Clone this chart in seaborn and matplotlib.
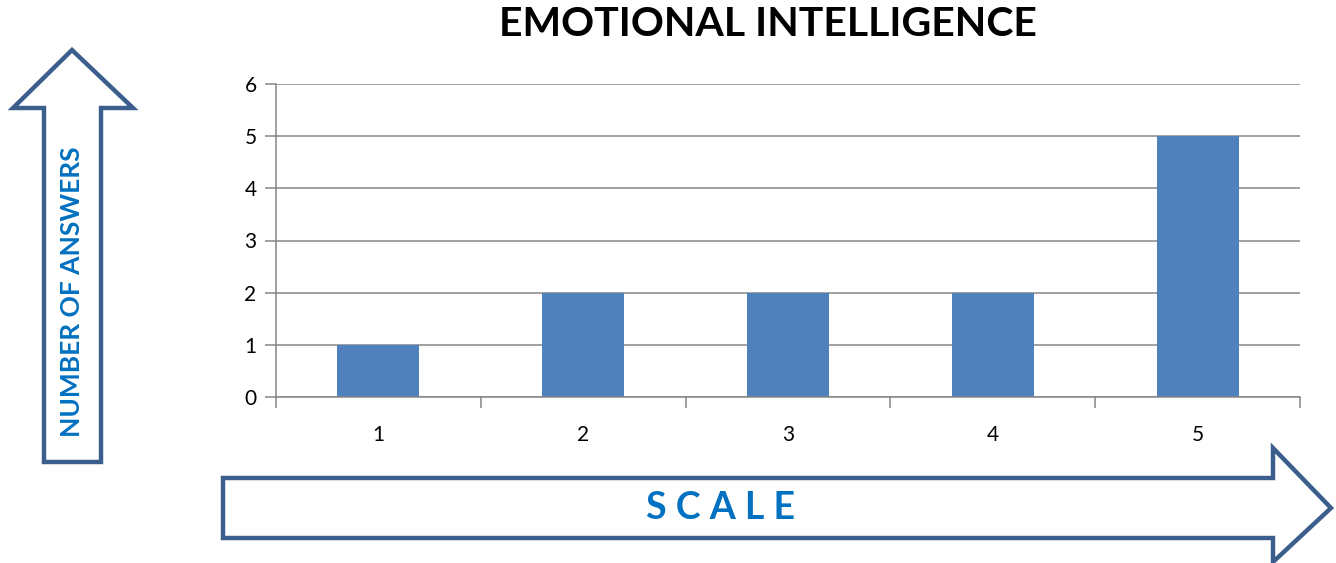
import seaborn as sns
import matplotlib.pyplot as plt
import pandas as pd
from matplotlib.patches import Polygon

scale = ["1", "2", "3", "4", "5"]
answers = [1, 2, 2, 2, 5]

sns.set_theme(style="white")
plt.rcParams['font.family'] = ['Lato', 'DejaVu Sans']

df = pd.DataFrame({"Scale": scale, "Answers": answers})

fig = plt.figure(figsize=(13.36, 5.63), dpi=100)
ax = fig.add_axes([276 / 1336, 1 - 397 / 563, 1024 / 1336, 313 / 563])
sns.barplot(x="Scale", y="Answers", data=df, ax=ax, color="#4F81BD", width=0.4, saturation=1, linewidth=0)

grey = "#868686"
ax.set_ylim(0, 6)
ax.set_xlim(-0.5, 4.5)
ax.set_yticks(range(0, 7))
ax.yaxis.grid(True, color=grey, linewidth=1.1)
ax.set_axisbelow(True)
ax.set_xlabel("")
ax.set_ylabel("")
for s in ["top", "right"]:
    ax.spines[s].set_visible(False)
for s in ["left", "bottom"]:
    ax.spines[s].set_color(grey)
    ax.spines[s].set_linewidth(1.1)
ax.tick_params(axis="y", which="major", left=True, length=8, width=1.1, color=grey, labelsize=15, pad=6, labelcolor="black")
ax.set_xticks([x - 0.5 for x in range(6)], minor=True)
ax.tick_params(axis="x", which="minor", bottom=True, length=8, width=1.1, color=grey)
ax.tick_params(axis="x", which="major", bottom=False, labelsize=15, pad=33, labelcolor="black")
ax.tick_params(axis="x", which="major", pad=14)

fig.suptitle("EMOTIONAL INTELLIGENCE", x=768 / 1336, y=1 - 24 / 563, va="center",
             fontsize=29.5, fontweight="bold", color="black")

# arrows drawn in figure pixel space
ov = fig.add_axes([0, 0, 1, 1], zorder=-1)
ov.set_xlim(0, 1336)
ov.set_ylim(563, 0)
ov.axis("off")
edge = "#3B5E8C"
up = [(44, 462), (44, 108), (13, 108), (72, 50), (133, 108), (101, 108), (101, 462)]
right = [(223, 478), (1273, 478), (1273, 448), (1331, 508), (1273, 562), (1273, 538), (223, 538)]
for pts in (up, right):
    ov.add_patch(Polygon(pts, closed=True, facecolor="white", edgecolor=edge, linewidth=3.2, joinstyle="miter"))

ov.text(72, 292, "NUMBER OF ANSWERS", rotation=90, ha="center", va="center", color="#0070C0", fontsize=19, fontweight="bold")
ov.text(721, 508, "S C A L E", ha="center", va="center", color="#0070C0", fontsize=27, fontweight="bold")

plt.savefig("out.png", dpi=100)
